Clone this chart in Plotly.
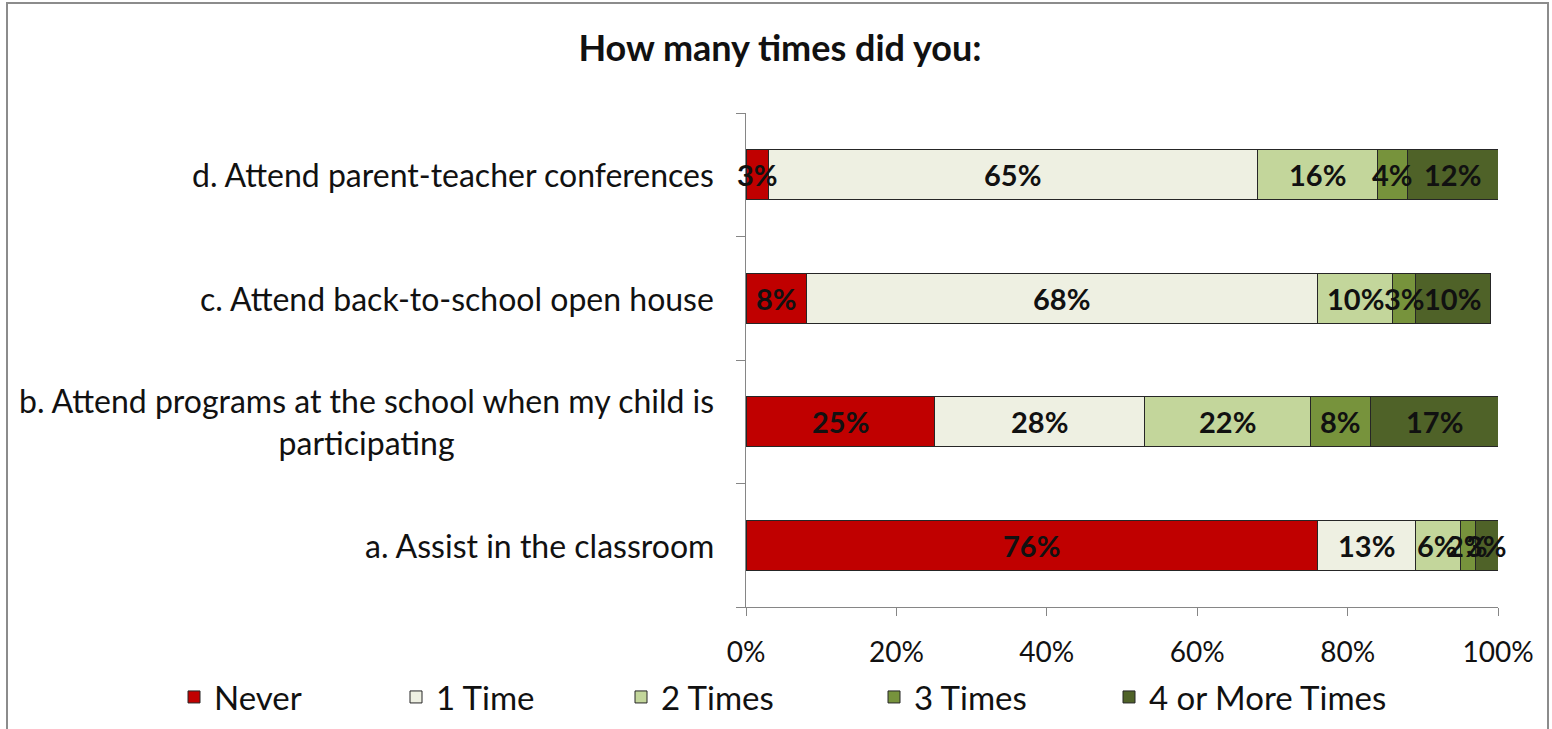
import plotly.graph_objects as go

# Survey items (bottom to top) and response shares in percent
categories = [
    "a. Assist in the classroom",
    "b. Attend programs at the school when my child is<br>participating",
    "c. Attend back-to-school open house",
    "d. Attend parent-teacher conferences",
]
series_names = ["Never", "1 Time", "2 Times", "3 Times", "4 or More Times"]
never = [76, 25, 8, 3]
one_time = [13, 28, 68, 65]
two_times = [6, 22, 10, 16]
three_times = [2, 8, 3, 4]
four_plus = [3, 17, 10, 12]
x_ticks = [0, 20, 40, 60, 80, 100]
x_tick_labels = ["0%", "20%", "40%", "60%", "80%", "100%"]

series_values = [never, one_time, two_times, three_times, four_plus]
colors = ["#C00000", "#EEF0E2", "#C3D69B", "#77933C", "#4F6228"]
# left edge (px) of each legend entry along the bottom row
legend_left_px = [174, 396, 621, 874, 1109]

FONT = "Lato"
W, H = 1552, 729
L, R, T, B = 746, 54, 113, 122
plot_w = W - L - R
plot_h = H - T - B
legend_y = -(697 - (T + plot_h)) / plot_h

fig = go.Figure()
legend_layouts = {}
for k, (name, vals, col) in enumerate(zip(series_names, series_values, colors)):
    leg_id = "legend" if k == 0 else f"legend{k + 1}"
    fig.add_trace(go.Bar(
        y=categories, x=vals, name=name, orientation="h",
        marker=dict(color=col, line=dict(color="#262626", width=1)),
        hoverinfo="skip", legend=leg_id,
    ))
    legend_layouts[leg_id] = dict(
        orientation="h", x=(legend_left_px[k] - L) / plot_w, xanchor="left",
        y=legend_y, yanchor="middle",
        font=dict(family=FONT, size=33, color="#111111"),
        bgcolor="rgba(0,0,0,0)",
    )

# value labels centred in each segment
annotations = []
for i, cat in enumerate(categories):
    start = 0
    for vals in series_values:
        v = vals[i]
        annotations.append(dict(
            x=start + v / 2, y=cat, xref="x", yref="y",
            text=f"<b>{v}%</b>", showarrow=False,
            font=dict(family=FONT, size=29, color="#111111"),
            xanchor="center", yanchor="middle",
        ))
        start += v

# category labels, centred lines, right-aligned against the axis
for cat in categories:
    annotations.append(dict(
        x=0, xref="paper", y=cat, yref="y", xshift=-30,
        text=cat, showarrow=False, align="center",
        xanchor="right", yanchor="middle",
        font=dict(family=FONT, size=32, color="#111111"),
    ))

fig.update_layout(
    width=W, height=H,
    margin=dict(l=L, r=R, t=T, b=B, autoexpand=False),
    paper_bgcolor="white", plot_bgcolor="white",
    barmode="stack", bargap=0.595,
    title=dict(text="<b>How many times did you:</b>", x=780 / W, xanchor="center",
               y=1 - 48 / H, yanchor="middle",
               font=dict(family=FONT, size=36, color="#111111")),
    annotations=annotations,
    showlegend=True,
    shapes=[dict(type="rect", xref="paper", yref="paper",
                 x0=(7 - L) / plot_w, x1=(1548 - L) / plot_w,
                 y0=-(740 - (T + plot_h)) / plot_h, y1=1 + (T - 3) / plot_h,
                 line=dict(color="#8C8C8C", width=2), layer="below")],
    **legend_layouts,
)

fig.update_xaxes(
    range=[0, 100], tickvals=x_ticks, ticktext=x_tick_labels,
    showgrid=False, zeroline=False, showline=True, linecolor="#868686", linewidth=1,
    ticks="outside", ticklen=8, tickcolor="#868686",
    tickfont=dict(family=FONT, size=28, color="#111111"),
    ticklabelstandoff=12,
)
fig.update_yaxes(
    categoryorder="array", categoryarray=categories,
    showgrid=False, zeroline=False, showline=True, linecolor="#868686", linewidth=1,
    ticks="outside", ticklen=9, tickcolor="#868686", tickson="boundaries",
    showticklabels=False,
)

fig.write_html("out.html")
